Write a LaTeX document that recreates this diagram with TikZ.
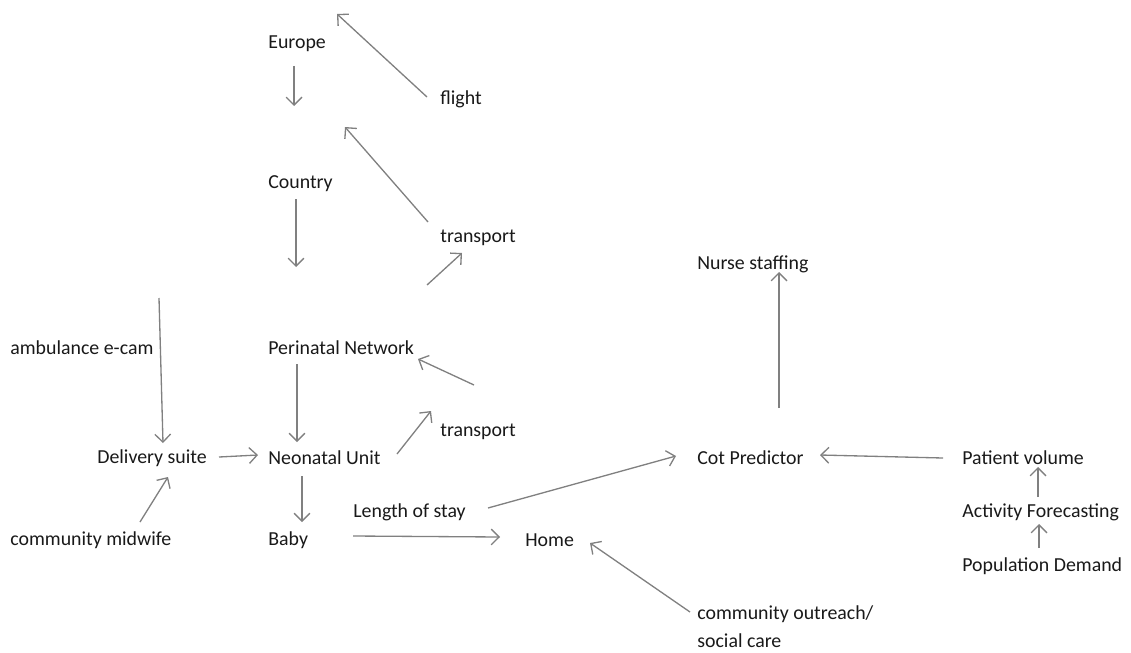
\documentclass[tikz,border=0pt]{standalone}
\usepackage{fontspec}
\setmainfont{Carlito}
\usetikzlibrary{arrows.meta}

\begin{document}
\begin{tikzpicture}[x=0.02cm,y=-0.02cm,
	every node/.style={inner sep=0pt,anchor=west,text=black!90,font=\fontsize{11.3}{16}\selectfont},
	arr/.style={draw=black!50,line width=0.75pt,-{Straight Barb[length=4.5pt,width=9pt]}}]
	\useasboundingbox (0,0) rectangle (1131,652);
	% labels
	\node (europe) at (268,44) {Europe};
	\node (flight) at (440,99) {flight};
	\node (country) at (268,184) {Country};
	\node (transup) at (440,238) {transport};
	\node (nurse) at (697,264) {Nurse staffing};
	\node (ambul) at (10,348) {ambulance e-cam};
	\node (perinatal) at (268,348) {Perinatal Network};
	\node (translow) at (440,432) {transport};
	\node (delivery) at (97,458) {Delivery suite};
	\node (neonatal) at (268,458) {Neonatal Unit};
	\node (cot) at (697,458) {Cot Predictor};
	\node (patient) at (962,458) {Patient volume};
	\node (stay) at (353,512) {Length of stay};
	\node (activity) at (962,512) {Activity Forecasting};
	\node (midwife) at (10,540) {community midwife};
	\node (baby) at (268,540) {Baby};
	\node (home) at (525,540) {Home};
	\node (population) at (962,566) {Population Demand};
	\node[align=left,anchor=north west] (outreach) at (697,605) {community outreach/\\social care};
	% free ends
	\coordinate (flight-a) at (427,97);
	\coordinate (flight-b) at (337,14);
	\coordinate (europe-a) at (294,66);
	\coordinate (europe-b) at (294,106);
	\coordinate (transup-a) at (428,222);
	\coordinate (transup-b) at (345,127);
	\coordinate (country-a) at (296,199);
	\coordinate (country-b) at (296,267);
	\coordinate (net-a) at (427,285);
	\coordinate (net-b) at (462,253);
	\coordinate (ambul-a) at (159,298);
	\coordinate (ambul-b) at (163,443);
	\coordinate (perinatal-a) at (297,364);
	\coordinate (perinatal-b) at (297,442);
	\coordinate (translow-a) at (474,385);
	\coordinate (translow-b) at (418,359);
	\coordinate (neonatal-a) at (397,454);
	\coordinate (neonatal-b) at (431,411);
	\coordinate (delivery-a) at (219,457);
	\coordinate (delivery-b) at (258,455);
	\coordinate (midwife-a) at (140,522);
	\coordinate (midwife-b) at (168,477);
	\coordinate (baby-a) at (302,476);
	\coordinate (baby-b) at (302,522);
	\coordinate (home-a) at (353,536);
	\coordinate (home-b) at (500,537);
	\coordinate (stay-a) at (488,508);
	\coordinate (stay-b) at (676,456);
	\coordinate (nurse-a) at (779,408);
	\coordinate (nurse-b) at (779,272);
	\coordinate (patient-a) at (943,458);
	\coordinate (patient-b) at (820,455);
	\coordinate (activity-a) at (1038,497);
	\coordinate (activity-b) at (1038,467);
	\coordinate (population-a) at (1039,548);
	\coordinate (population-b) at (1039,524);
	\coordinate (outreach-a) at (690,612);
	\coordinate (outreach-b) at (590,543);
	% arrows
	\foreach \n in {flight,europe,transup,country,net,ambul,perinatal,translow,neonatal,delivery,midwife,baby,home,stay,nurse,patient,activity,population,outreach}
		\draw[arr] (\n-a) -- (\n-b);
\end{tikzpicture}
\end{document}
